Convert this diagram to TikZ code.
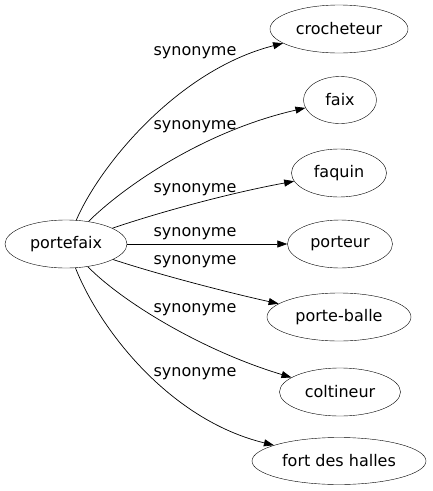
\documentclass[tikz,border=0pt]{standalone}
\usepackage{fontspec}
\setmainfont{DejaVu Sans}
\usetikzlibrary{shapes.geometric,arrows.meta}
\begin{document}
\begin{tikzpicture}[x=1pt, y=-1pt,
    font=\fontsize{16}{19}\selectfont,
    mot/.style={draw, ellipse, inner sep=0pt, minimum height=48pt},
    syn/.style={-{Triangle[length=10pt,width=7pt]}, line width=0.7pt},
    lbl/.style={inner sep=0pt}]
  \useasboundingbox (0,0) rectangle (432,491);
  \node[mot, minimum width=122pt] (portefaix) at (66,244) {portefaix};
  \node[mot, minimum width=138pt] (crocheteur) at (339,29) {crocheteur};
  \node[mot, minimum width=73pt, minimum height=47pt] (faix) at (340,100) {faix};
  \node[mot, minimum width=95pt] (faquin) at (339,173) {faquin};
  \node[mot, minimum width=105pt] (porteur) at (340,244) {porteur};
  \node[mot, minimum width=144pt] (porteballe) at (339,317) {porte-balle};
  \node[mot, minimum width=121pt] (coltineur) at (340,392) {coltineur};
  \node[mot, minimum width=174pt, minimum height=47pt] (fortdeshalles) at (339,461) {fort des halles};
  % les arcs
  \draw[syn] (portefaix) .. controls (100,165) and (178,70) .. (crocheteur)
    node[lbl] (l1) at (195,53) {synonyme};
  \draw[syn] (portefaix) .. controls (120,190) and (200,132) .. (faix)
    node[lbl] (l2) at (195,127) {synonyme};
  \draw[syn] (portefaix) .. controls (160,212) and (230,193) .. (faquin)
    node[lbl] (l3) at (195,190) {synonyme};
  \draw[syn] (portefaix) -- (porteur)
    node[lbl] (l4) at (195,234) {synonyme};
  \draw[syn] (portefaix) .. controls (160,275) and (230,293) .. (porteballe)
    node[lbl] (l5) at (195,262) {synonyme};
  \draw[syn] (portefaix) .. controls (120,300) and (200,350) .. (coltineur)
    node[lbl] (l6) at (195,310) {synonyme};
  \draw[syn] (portefaix) .. controls (100,330) and (170,420) .. (fortdeshalles)
    node[lbl] (l7) at (195,374) {synonyme};
\end{tikzpicture}
\end{document}
